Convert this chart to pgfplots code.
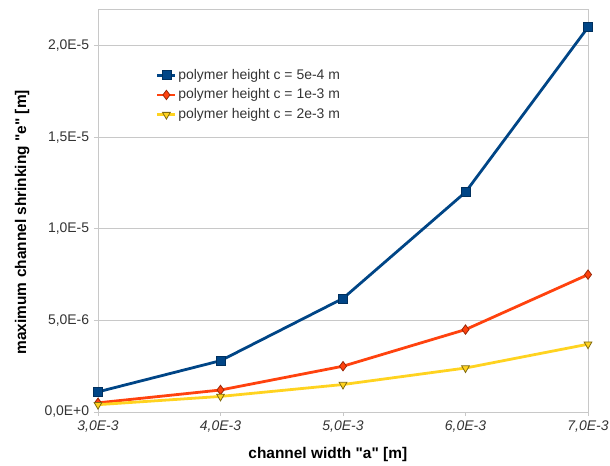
\documentclass[border=0pt]{standalone}
\usepackage{fontspec}
\setmainfont{Liberation Sans}
\usepackage{pgfplots}
\pgfplotsset{compat=1.18}
\definecolor{serblue}{HTML}{004586}
\definecolor{serred}{HTML}{FF420E}
\definecolor{seryel}{HTML}{FFD320}
\definecolor{gridgray}{HTML}{C8C8C8}
\definecolor{txt}{HTML}{333333}
\begin{document}
\fontsize{14}{16}\selectfont
\begin{tikzpicture}[x=1bp,y=1bp]
\useasboundingbox (-98,-54) rectangle (512,412);
\begin{axis}[
  at={(0,0)}, anchor=south west,
  scale only axis, width=490bp, height=403bp,
  xmin=3e-3, xmax=7e-3, ymin=0, ymax=2.2e-5,
  scaled ticks=false,
  xtick={3e-3,4e-3,5e-3,6e-3,7e-3},
  xticklabels={{3,0E-3},{4,0E-3},{5,0E-3},{6,0E-3},{7,0E-3}},
  ytick={0,5e-6,1e-5,1.5e-5,2e-5},
  yticklabels={{0,0E+0},{5,0E-6},{1,0E-5},{1,5E-5},{2,0E-5}},
  xticklabel style={font=\itshape\fontsize{14}{16}\selectfont, text=txt},
  yticklabel style={font=\fontsize{14}{16}\selectfont, text=txt},
  ymajorgrids,
  grid style={gridgray, line width=0.9pt},
  axis line style={gridgray, line width=0.9pt},
  tick style={gridgray, line width=0.9pt},
  tick align=outside, major tick length=4bp, tick pos=left,
  xlabel={\bfseries channel width \textquotedbl a\textquotedbl{} [m]},
  ylabel={\bfseries maximum channel shrinking \textquotedbl e\textquotedbl{} [m]},
  xlabel style={at={(axis description cs:0.469,0)}, anchor=center, yshift=-43bp, font=\fontsize{15.5}{18}\selectfont},
  ylabel style={at={(axis description cs:-0.155,0.471)}, anchor=center, font=\fontsize{15.5}{18}\selectfont},
  legend style={at={(0.118,0.855)}, anchor=north west, draw=none, fill=none,
    font=\fontsize{14}{16}\selectfont, row sep=4.5bp, inner sep=0pt,
    nodes={inner sep=1.5bp, text=txt}},
  legend cell align=left,
  legend image code/.code={
    \draw[mark repeat=2, mark phase=2, #1] plot coordinates {(0bp,0bp) (9bp,0bp) (18bp,0bp)};},
  every axis plot/.append style={line width=2.8pt},
]
\addplot[serblue, mark=square*, mark size=4.5bp,
  mark options={fill=serblue, draw=serblue!70!black, line width=0.8pt}]
  coordinates {(3e-3,1.1e-6) (4e-3,2.8e-6) (5e-3,6.2e-6) (6e-3,1.2e-5) (7e-3,2.1e-5)};
\addlegendentry{polymer height c = 5e-4 m}
\addplot[serred, mark=diamond*, mark size=4.7bp,
  mark options={fill=serred, draw=serred!60!black, line width=0.8pt}]
  coordinates {(3e-3,0.5e-6) (4e-3,1.2e-6) (5e-3,2.5e-6) (6e-3,4.5e-6) (7e-3,7.5e-6)};
\addlegendentry{polymer height c = 1e-3 m}
\addplot[seryel, mark=triangle*, mark size=4.5bp,
  mark options={fill=seryel, draw=seryel!50!black, line width=0.8pt, rotate=180}]
  coordinates {(3e-3,0.4e-6) (4e-3,0.85e-6) (5e-3,1.5e-6) (6e-3,2.4e-6) (7e-3,3.7e-6)};
\addlegendentry{polymer height c = 2e-3 m}
\end{axis}
\end{tikzpicture}
\end{document}
